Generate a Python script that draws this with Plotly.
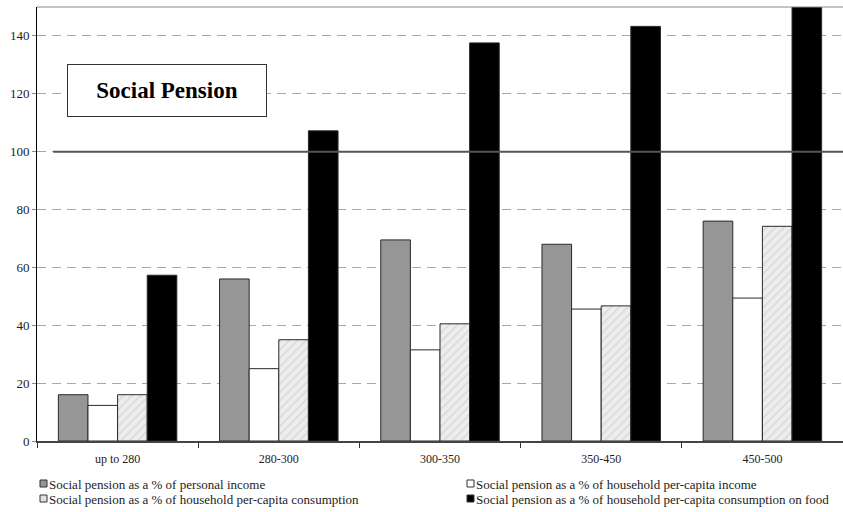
import plotly.graph_objects as go

# Income groups and the four social-pension ratios (%)
groups = ["up to 280", "280-300", "300-350", "350-450", "450-500"]
personal_income = [16, 56, 69.5, 68, 76]
hh_income = [12.3, 25, 31.5, 45.6, 49.4]
hh_consumption = [16, 35, 40.5, 46.7, 74.2]
hh_food = [57.3, 107.2, 137.6, 143.3, 151]

series_names = [
    "Social pension as a % of personal income",
    "Social pension as a % of household per-capita income",
    "Social pension as a % of household per-capita consumption",
    "Social pension as a % of household per-capita consumption on food",
]
y_ticks = [0, 20, 40, 60, 80, 100, 120, 140]

SERIF = "Liberation Serif"
W, H = 843, 512
M_L, M_R, M_T, M_B = 37, 0, 7, 71
outline = dict(color="#2a2a2a", width=1)

fig = go.Figure()
fig.add_bar(x=groups, y=personal_income, name=series_names[0],
            marker=dict(color="#969696", line=outline))
fig.add_bar(x=groups, y=hh_income, name=series_names[1],
            marker=dict(color="#ffffff", line=outline))
fig.add_bar(x=groups, y=hh_consumption, name=series_names[2],
            marker=dict(color="#ededed", line=outline,
                        pattern=dict(shape="/", fgcolor="#c8c8c8",
                                     bgcolor="#ededed", size=6,
                                     solidity=0.3)))
fig.add_bar(x=groups, y=hh_food, name=series_names[3],
            marker=dict(color="#000000", line=outline))

# Reference line at 100 %
fig.add_shape(type="line", xref="paper", yref="y", x0=0.02, x1=1,
              y0=100, y1=100, line=dict(color="#555555", width=2),
              layer="above")
# Top frame line
fig.add_shape(type="line", xref="paper", yref="paper", x0=0, x1=1,
              y0=1, y1=1, line=dict(color="#888888", width=1))

plot_w = W - M_L - M_R
plot_h = H - M_T - M_B

# Title box
fig.add_annotation(xref="paper", yref="paper",
                   x=(167 - M_L) / plot_w, y=(441 - 90) / plot_h,
                   xanchor="center", yanchor="middle",
                   text="<b>Social Pension</b>", showarrow=False,
                   font=dict(family=SERIF, size=23, color="#000"),
                   bordercolor="#333", borderwidth=1, bgcolor="#fff",
                   width=196, height=49)

# Legend: two columns, two rows
leg_fill = ["#969696", "#ffffff", "#e2e2e2", "#000000"]
leg_pos = [(40, 484), (467, 484), (40, 499), (467, 499)]
for name, fill, (px, py) in zip(series_names, leg_fill, leg_pos):
    x0 = (px - M_L) / plot_w
    x1 = (px + 7 - M_L) / plot_w
    y0 = (441 - (py + 3)) / plot_h
    y1 = (441 - (py - 4)) / plot_h
    fig.add_shape(type="rect", xref="paper", yref="paper",
                  x0=x0, x1=x1, y0=y0, y1=y1,
                  fillcolor=fill, line=dict(color="#333", width=1))
    fig.add_annotation(xref="paper", yref="paper",
                       x=(px + 7 - M_L) / plot_w, y=(441 - py) / plot_h,
                       xanchor="left", yanchor="middle", text=name,
                       showarrow=False,
                       font=dict(family=SERIF, size=13, color="#222"))

fig.update_layout(
    width=W, height=H,
    margin=dict(l=M_L, r=M_R, t=M_T, b=M_B),
    plot_bgcolor="#ffffff", paper_bgcolor="#ffffff",
    barmode="group", bargap=0.265, bargroupgap=0,
    showlegend=False,
    font=dict(family=SERIF, size=12, color="#222"),
)
fig.update_xaxes(
    showline=True, linecolor="#444", linewidth=2,
    ticks="outside", tickson="boundaries", ticklen=5, tickcolor="#333",
    showgrid=False, ticklabelstandoff=6,
    tickfont=dict(family=SERIF, size=12, color="#222"),
)
fig.update_yaxes(
    range=[0, 150], tickvals=y_ticks,
    showline=True, linecolor="#000", linewidth=1,
    ticks="outside", ticklen=4, tickcolor="#888",
    showgrid=True, gridcolor="#a8a8a8", gridwidth=1, griddash="9px,6px",
    zeroline=False,
    tickfont=dict(family=SERIF, size=13, color="#222"),
)

fig.write_html("out.html")
